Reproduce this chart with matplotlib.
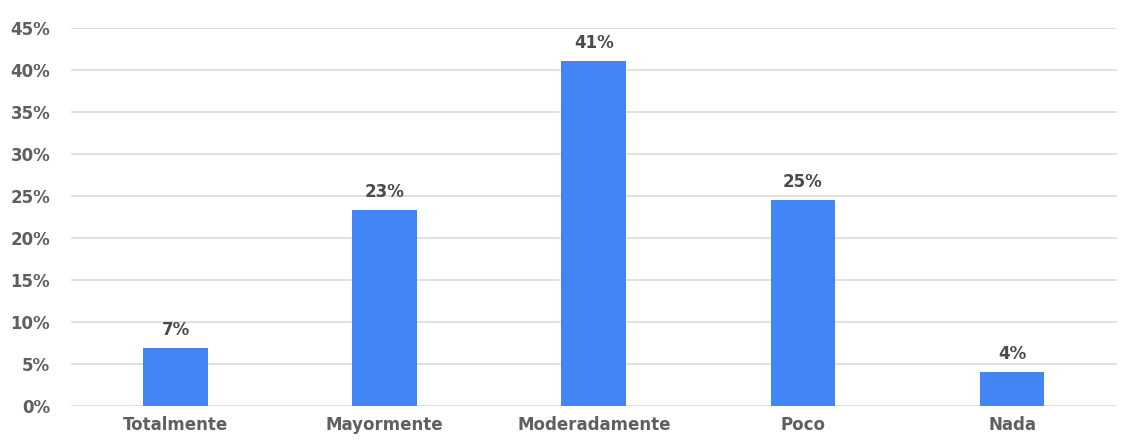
import matplotlib
matplotlib.use("Agg")
import matplotlib.pyplot as plt

categories = ["Totalmente", "Mayormente", "Moderadamente", "Poco", "Nada"]
values = [6.9, 23.3, 41.1, 24.5, 4.05]
labels = ["7%", "23%", "41%", "25%", "4%"]
yticks = [0, 5, 10, 15, 20, 25, 30, 35, 40, 45]

plt.rcParams['font.family'] = ['DejaVu Sans']

fig = plt.figure(figsize=(11.29, 4.4), dpi=100)
ax = fig.add_axes([0.063, 0.0773, 0.926, 0.8591])

x = range(len(categories))
bars = ax.bar(x, values, width=0.31, color="#4285F4", zorder=3)

for b, lab in zip(bars, labels):
    ax.text(b.get_x() + b.get_width() / 2, b.get_height() + 1.1, lab,
            ha="center", va="bottom", fontsize=12, color="#4a4a4a",
            fontweight="semibold")

ax.set_xlim(-0.5, len(categories) - 0.5)
ax.set_ylim(0, 45)
ax.set_yticks(yticks)
ax.set_yticklabels([f"{t}%" for t in yticks])
ax.set_xticks(list(x))
ax.set_xticklabels(categories)
ax.tick_params(axis="both", length=0, labelsize=12, labelcolor="#5f5f5f")
ax.tick_params(axis="y", pad=15)
ax.tick_params(axis="x", pad=7)
for lab in ax.get_xticklabels() + ax.get_yticklabels():
    lab.set_fontweight("semibold")

ax.grid(axis="y", color="#dcdcdc", linewidth=1.2, zorder=0)
for s in ax.spines.values():
    s.set_visible(False)

fig.savefig("out.png", dpi=100)
